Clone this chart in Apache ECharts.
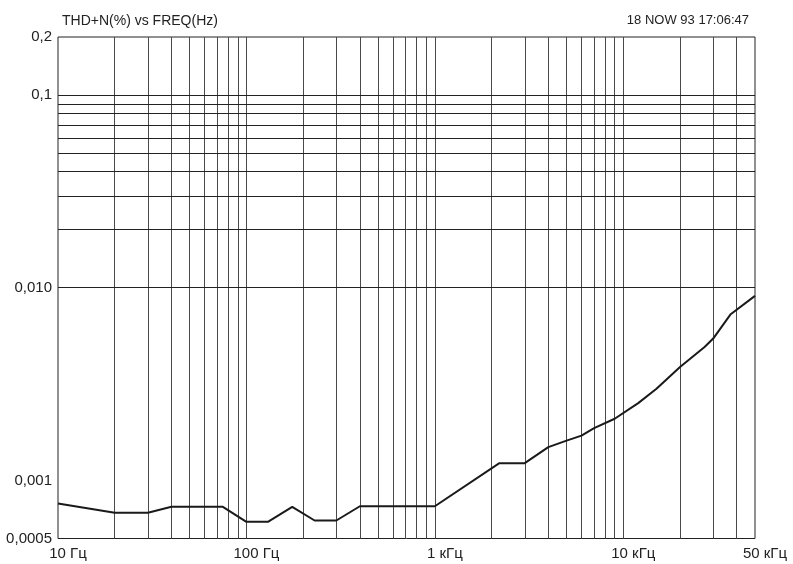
<!DOCTYPE html>
<html>
<head>
<meta charset="utf-8">
<script src="https://cdn.jsdelivr.net/npm/echarts@6/dist/echarts.min.js"></script>
<style>html,body{margin:0;padding:0;background:#fff;}#c{width:793px;height:564px;}</style>
</head>
<body>
<div id="c"></div>
<script>
// Data
var freqHz = [10, 20, 30, 40, 75, 100, 130, 175, 230, 300, 400, 1000, 2200, 3000, 4000, 5000, 6000, 7000, 9000, 12000, 15000, 20000, 27000, 30000, 37000, 50000];
var thdPct = [0.00076, 0.00068, 0.00068, 0.00073, 0.00073, 0.00061, 0.00061, 0.00073, 0.00062, 0.00062, 0.000735, 0.000735, 0.00123, 0.00123, 0.00149, 0.00161, 0.00171, 0.00187, 0.00209, 0.00252, 0.00299, 0.00388, 0.00493, 0.00545, 0.00726, 0.00907];

var xTickValues = [10, 100, 1000, 10000, 50000];
var xTickLabels = ['10 Гц', '100 Гц', '1 кГц', '10 кГц', '50 кГц'];
var yTickValues = [0.0005, 0.001, 0.01, 0.1, 0.2];
var yTickLabels = ['0,0005', '0,001', '0,010', '0,1', '0,2'];

var xGridValues = [20,30,40,50,60,70,80,90,100,200,300,400,500,600,700,800,900,1000,2000,3000,4000,5000,6000,7000,8000,9000,10000,20000,30000,40000];
var yGridValues = [0.0006,0.0007,0.0008,0.0009,0.001,0.002,0.003,0.004,0.005,0.006,0.007,0.008,0.009,0.01,0.02,0.03,0.04,0.05,0.06,0.07,0.08,0.09,0.1];

var titleText = 'THD+N(%) vs FREQ(Hz)';
var stampText = '18 NOW 93 17:06:47';

function nearestLabel(v, vals, labels) {
  var best = 0, bd = Infinity;
  for (var i = 0; i < vals.length; i++) {
    var d = Math.abs(Math.log(v) - Math.log(vals[i]));
    if (d < bd) { bd = d; best = i; }
  }
  return labels[best];
}

var FONT = '"Liberation Sans", Arial, sans-serif';
var chart = echarts.init(document.getElementById('c'), null, {renderer: 'canvas'});

var gridLines = [];
xGridValues.forEach(function (v) { gridLines.push({xAxis: v, lineStyle: {color: '#4a4a4a'}}); });
yGridValues.forEach(function (v) { gridLines.push({yAxis: v, lineStyle: {color: '#222'}}); });

chart.setOption({
  animation: false,
  backgroundColor: '#fff',
  title: [
    {text: titleText, left: 57, top: 9, textStyle: {fontFamily: FONT, fontSize: 14, fontWeight: 'normal', color: '#222'}},
    {text: stampText, right: 39, top: 9, textStyle: {fontFamily: FONT, fontSize: 13, fontWeight: 'normal', color: '#222'}}
  ],
  grid: {left: 58, right: 38, top: 37, bottom: 25.5, show: true, borderColor: '#222', borderWidth: 1, containLabel: false},
  xAxis: {
    type: 'log', logBase: 10, min: 10, max: 50000,
    axisLine: {show: false}, axisTick: {show: false}, splitLine: {show: false}, minorSplitLine: {show: false},
    axisLabel: {
      customValues: xTickValues,
      margin: 8,
      fontFamily: FONT, fontSize: 15, color: '#222',
      padding: [0, 0, 0, 20],
      formatter: function (v) { return nearestLabel(v, xTickValues, xTickLabels); }
    }
  },
  yAxis: {
    type: 'log', logBase: 10, min: 0.0005, max: 0.2,
    axisLine: {show: false}, axisTick: {show: false}, splitLine: {show: false},
    axisLabel: {
      customValues: yTickValues,
      margin: 6,
      fontFamily: FONT, fontSize: 15, color: '#222',
      formatter: function (v) { return nearestLabel(v, yTickValues, yTickLabels); }
    }
  },
  series: [{
    type: 'line',
    data: freqHz.map(function (f, i) { return [f, thdPct[i]]; }),
    symbol: 'none',
    lineStyle: {color: '#1a1a1a', width: 2},
    z: 5,
    markLine: {
      silent: true, symbol: ['none', 'none'], label: {show: false},
      lineStyle: {type: 'solid', width: 1, color: '#333'},
      animation: false,
      z: 1,
      data: gridLines
    }
  }]
});
</script>
</body>
</html>
